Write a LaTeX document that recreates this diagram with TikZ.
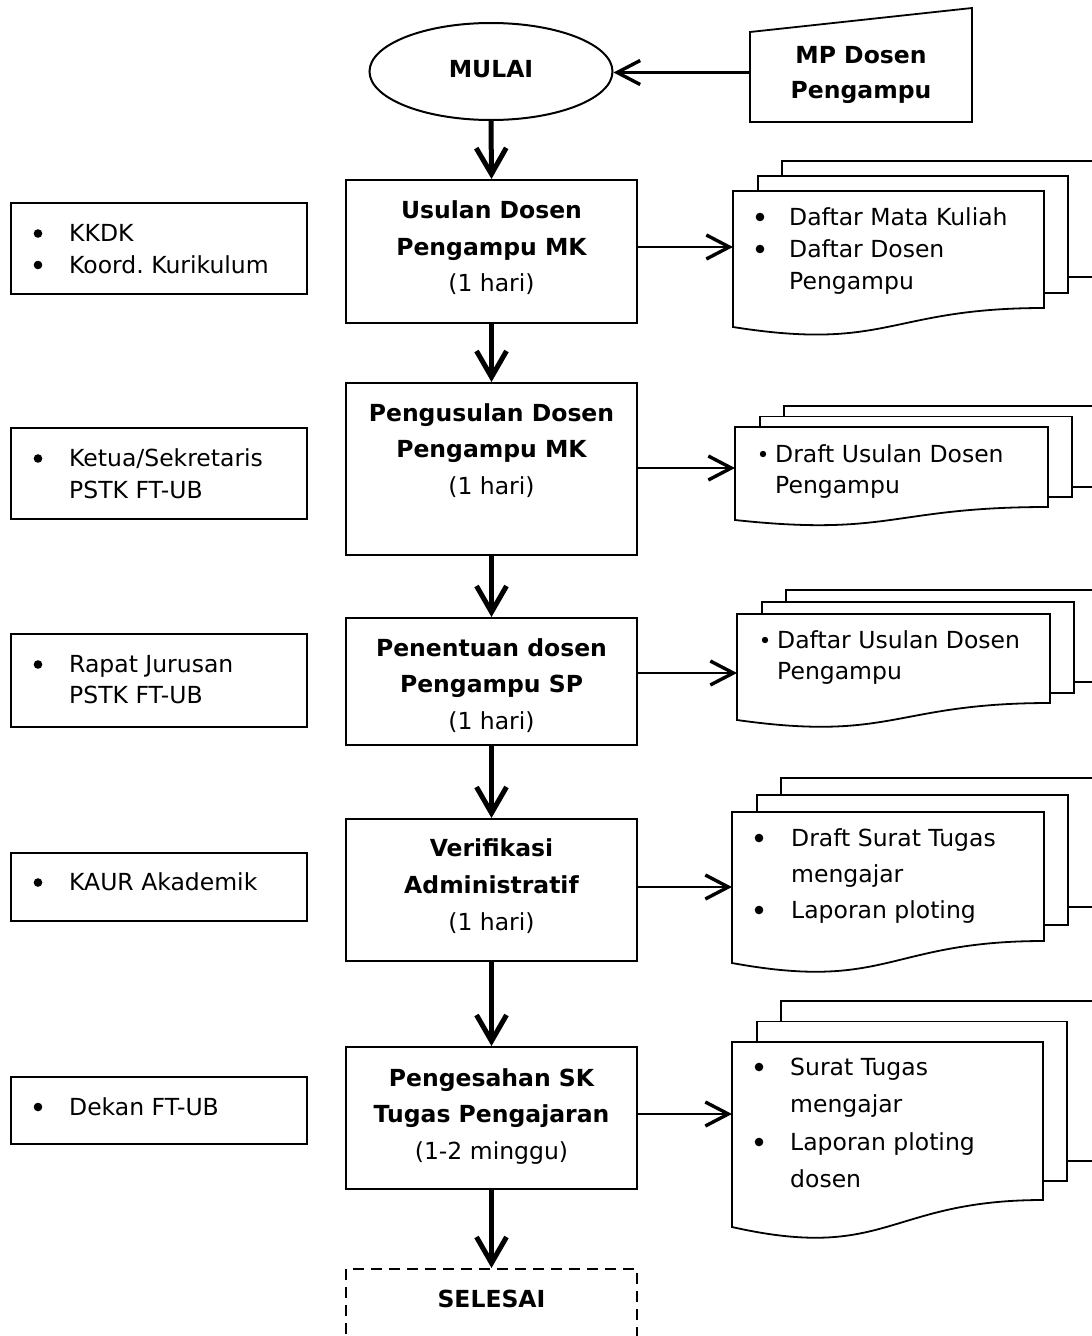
\documentclass[tikz,border=0pt]{standalone}
\usepackage{fontspec}
\setmainfont{DejaVu Sans}
\usetikzlibrary{shapes.geometric,arrows.meta}
\frenchspacing
\newcommand\fsz{\fontsize{23.5}{32}\selectfont}
\newcommand\docstack[9]{%
  \draw[sheet] ({#2+49},{#4-2*#7}) rectangle (1110,#9);
  \draw[sheet] ({#2+25},{#4-#7}) rectangle ({#3+24},#8);
  \draw[sheet] (#2,#4) -- (#3,#4) -- (#3,#5) .. controls ({(#2+#3)/2},#5) and ({(#2+#3)/2},{#5+2.3*(#6-#5)}) .. (#2,#6) -- cycle;
  \coordinate (#1) at (#2,#4);
}
\tikzset{
  box/.style={draw, line width=2pt, inner sep=0pt, minimum width=291pt},
  lbox/.style={draw, line width=1.8pt, inner sep=0pt, minimum width=296pt},
  sheet/.style={draw, fill=white, line width=1.8pt},
  tl/.style={inner sep=0pt, anchor=base west, font=\fsz},
  tc/.style={inner sep=0pt, anchor=base, font=\fsz},
  tb/.style={inner sep=0pt, anchor=base, font=\fsz\bfseries},
  vflow/.style={line width=5pt, -{Straight Barb[length=26pt,width=30pt,line width'=5pt]}},
  hflow/.style={line width=2.3pt, -{Straight Barb[length=23pt,width=24pt,line width'=3.4pt]}},
}
\begin{document}
\begin{tikzpicture}[x=1pt,y=-1pt]
\useasboundingbox (0,0) rectangle (1092,1336);

% start and input
\node[ellipse, draw, line width=2pt, minimum width=243pt, minimum height=97pt, inner sep=0pt] (mulai) at (491,71.5) {};
\node[tb] (mulait) at (491,77) {MULAI};
\draw[sheet] (750,32) -- (972,8) -- (972,122) -- (750,122) -- cycle;
\coordinate (mpin) at (750,72.5);
\node[tb] (mp1) at (861,63.5) {MP Dosen};
\node[tb] (mp2) at (861,98.5) {Pengampu};
\draw[hflow] (mpin) -- (mulai.east |- mpin);

% process boxes
\node[box, minimum height=143pt] (b1) at (491.5,251.5) {};
\node[box, minimum height=172pt] (b2) at (491.5,469) {};
\node[box, minimum height=127pt] (b3) at (491.5,681.5) {};
\node[box, minimum height=142pt] (b4) at (491.5,890) {};
\node[box, minimum height=142pt] (b5) at (491.5,1118) {};
\node[box, dash pattern=on 11pt off 7pt, minimum height=102pt] (selesai) at (491.5,1320) {};

\node[tb] (b1a) at (491.5,218) {Usulan Dosen};
\node[tb] (b1b) at (491.5,255) {Pengampu MK};
\node[tc] (b1c) at (491.5,291) {(1 hari)};
\node[tb] (b2a) at (491.5,421) {Pengusulan Dosen};
\node[tb] (b2b) at (491.5,457) {Pengampu MK};
\node[tc] (b2c) at (491.5,494) {(1 hari)};
\node[tb] (b3a) at (491.5,656) {Penentuan dosen};
\node[tb] (b3b) at (491.5,692) {Pengampu SP};
\node[tc] (b3c) at (491.5,729) {(1 hari)};
\node[tb] (b4a) at (491.5,856) {Verifikasi};
\node[tb] (b4b) at (491.5,893) {Administratif};
\node[tc] (b4c) at (491.5,930) {(1 hari)};
\node[tb] (b5a) at (491.5,1086) {Pengesahan SK};
\node[tb] (b5b) at (491.5,1122) {Tugas Pengajaran};
\node[tc] (b5c) at (491.5,1159) {(1-2 minggu)};
\node[tb] (selesait) at (491.5,1307) {SELESAI};

\draw[vflow] (mulai.south) -- (b1.north);
\draw[vflow] (b1.south) -- (b2.north);
\draw[vflow] (b2.south) -- (b3.north);
\draw[vflow] (b3.south) -- (b4.north);
\draw[vflow] (b4.south) -- (b5.north);
\draw[vflow] (b5.south) -- (selesai.north);

% left boxes
\node[lbox, minimum height=91pt] (l1) at (159,248.5) {};
\node[lbox, minimum height=91pt] (l2) at (159,473.5) {};
\node[lbox, minimum height=93pt] (l3) at (159,680.5) {};
\node[lbox, minimum height=68pt] (l4) at (159,887) {};
\node[lbox, minimum height=67pt] (l5) at (159,1110.5) {};

\fill (38,233.5) circle (4.3pt) (38,265) circle (4.3pt);
\node[tl] (l1a) at (69,241.5) {KKDK};
\node[tl] (l1b) at (69,273) {Koord. Kurikulum};
\fill (38,458.5) circle (4.3pt);
\node[tl] (l2a) at (69,466.5) {Ketua/Sekretaris};
\node[tl] (l2b) at (69,498) {PSTK FT-UB};
\fill (38,664.5) circle (4.3pt);
\node[tl] (l3a) at (69,672.5) {Rapat Jurusan};
\node[tl] (l3b) at (69,703.5) {PSTK FT-UB};
\fill (38,882.5) circle (4.3pt);
\node[tl] (l4a) at (69,890.5) {KAUR Akademik};
\fill (38,1107) circle (4.3pt);
\node[tl] (l5a) at (69,1115) {Dekan FT-UB};

% document stacks
\docstack{d1}{733}{1044}{191}{308}{327}{15}{293}{277}
\docstack{d2}{735}{1048}{427}{507}{520}{10.5}{497}{487}
\docstack{d3}{737}{1050}{614}{703}{720}{12}{693}{682}
\docstack{d4}{732}{1044}{812}{941}{963}{17}{925}{907}
\docstack{d5}{732}{1043}{1042}{1200}{1227}{20.5}{1181}{1161}

\fill (760,217) circle (4.3pt) (760,249) circle (4.3pt);
\node[tl] (d1a) at (789,225) {Daftar Mata Kuliah};
\node[tl] (d1b) at (789,257) {Daftar Dosen};
\node[tl] (d1c) at (789,289) {Pengampu};
\fill (763,454) circle (3.2pt);
\node[tl] (d2a) at (775,462) {Draft Usulan Dosen};
\node[tl] (d2b) at (775,493) {Pengampu};
\fill (765,640) circle (3.2pt);
\node[tl] (d3a) at (777,648) {Daftar Usulan Dosen};
\node[tl] (d3b) at (777,679) {Pengampu};
\fill (759,838) circle (4.3pt) (759,910) circle (4.3pt);
\node[tl] (d4a) at (791,846) {Draft Surat Tugas};
\node[tl] (d4b) at (791,882) {mengajar};
\node[tl] (d4c) at (791,918) {Laporan ploting};
\fill (759,1067) circle (4.3pt) (759,1142) circle (4.3pt);
\node[tl] (d5a) at (790,1075) {Surat Tugas};
\node[tl] (d5b) at (790,1112) {mengajar};
\node[tl] (d5c) at (790,1150) {Laporan ploting};
\node[tl] (d5d) at (790,1187) {dosen};

% arrows to documents
\coordinate (d1in) at (733,247);
\coordinate (d2in) at (735,468);
\coordinate (d3in) at (737,673);
\coordinate (d4in) at (732,887);
\coordinate (d5in) at (732,1114);
\draw[hflow] (b1.east |- d1in) -- (d1in);
\draw[hflow] (b2.east |- d2in) -- (d2in);
\draw[hflow] (b3.east |- d3in) -- (d3in);
\draw[hflow] (b4.east |- d4in) -- (d4in);
\draw[hflow] (b5.east |- d5in) -- (d5in);
\end{tikzpicture}
\end{document}
